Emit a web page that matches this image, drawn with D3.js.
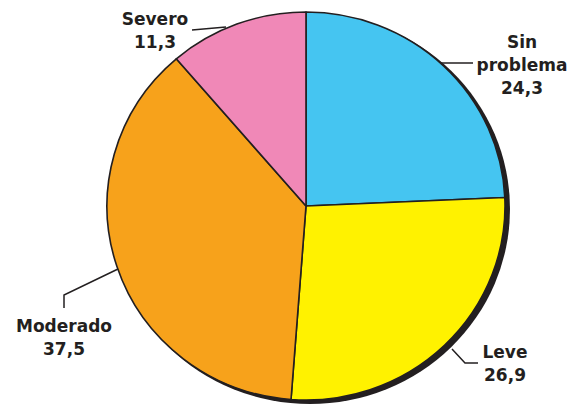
<!DOCTYPE html>
<html>
<head>
<meta charset="utf-8">
<script src="https://cdn.jsdelivr.net/npm/d3@7"></script>
<style>
	body { margin: 0; background: #fff; }
	svg { display: block; }
</style>
</head>
<body>
<div id="chart"></div>
<script>
// Data
const categories = ["Sin problema", "Leve", "Moderado", "Severo"]
const values = [24.3, 26.9, 37.5, 11.3]
const valueLabels = ["24,3", "26,9", "37,5", "11,3"]
const colors = ["#45C5F1", "#FFF200", "#F7A21B", "#F088B7"]

const width = 579
const height = 407
const cx = 306
const cy = 206
const radius = 199
const squash = 0.975 // pie is slightly flatter than round

const svg = d3
	.select("#chart")
	.append("svg")
	.attr("width", width)
	.attr("height", height)

const pie = d3
	.pie()
	.sort(null)
	.value((d) => d.value)

const arc = d3.arc().innerRadius(0).outerRadius(radius)

const data = categories.map((c, i) => ({
	name: c,
	value: values[i],
	label: valueLabels[i],
	color: colors[i],
}))

const arcs = pie(data)

// Shadow behind the pie
svg.append("ellipse")
	.attr("cx", cx + 4)
	.attr("cy", cy + 3)
	.attr("rx", radius + 1)
	.attr("ry", radius * squash + 1)
	.attr("fill", "#231F20")

const g = svg
	.append("g")
	.attr("transform", `translate(${cx},${cy}) scale(1,${squash})`)

g.selectAll("path.slice")
	.data(arcs)
	.enter()
	.append("path")
	.attr("class", "slice")
	.attr("d", arc)
	.attr("fill", (d) => d.data.color)
	.attr("stroke", "#231F20")
	.attr("stroke-width", 1.6)
	.attr("stroke-linejoin", "round")

// Label layout: text lines, anchor position and leader line points
const labelLayout = {
	"Sin problema": {
		lines: ["Sin", "problema"],
		x: 522, y: 48,
		leader: [[441, 63], [473, 63]],
	},
	Leve: {
		lines: ["Leve"],
		x: 505, y: 358,
		leader: [[452, 349], [465, 363], [478, 363]],
	},
	Moderado: {
		lines: ["Moderado"],
		x: 64, y: 332,
		leader: [[64, 308], [64, 295], [118, 269]],
	},
	Severo: {
		lines: ["Severo"],
		x: 155, y: 25,
		leader: [[192, 30], [226, 27]],
	},
}

const lineGen = d3.line()

arcs.forEach((d) => {
	const lay = labelLayout[d.data.name]

	svg.append("path")
		.attr("d", lineGen(lay.leader))
		.attr("fill", "none")
		.attr("stroke", "#231F20")
		.attr("stroke-width", 1.5)

	const text = svg
		.append("text")
		.attr("x", lay.x)
		.attr("y", lay.y)
		.attr("text-anchor", "middle")
		.style("font-family", "DejaVu Sans, Verdana, sans-serif")
		.style("font-weight", "bold")
		.style("font-size", "17px")
		.attr("fill", "#231F20")

	lay.lines.concat([d.data.label]).forEach((t, i) => {
		text.append("tspan")
			.attr("x", lay.x)
			.attr("dy", i === 0 ? 0 : 23)
			.text(t)
	})
})
</script>
</body>
</html>
